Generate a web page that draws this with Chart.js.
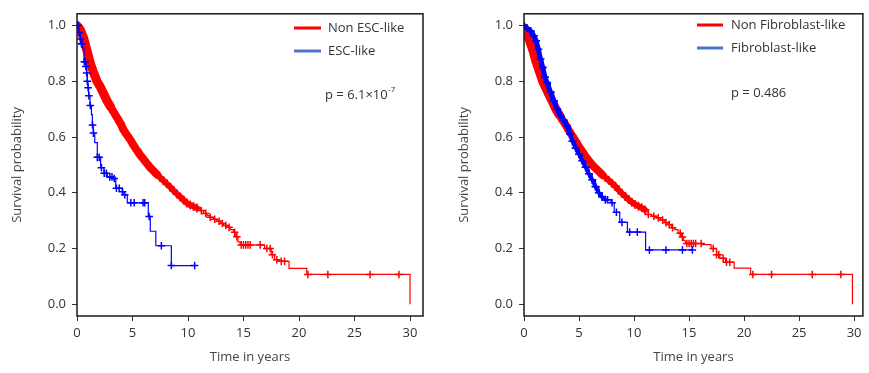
<!DOCTYPE html>
<html>
<head>
<meta charset="utf-8">
<script src="https://cdn.jsdelivr.net/npm/chart.js@4.4.0/dist/chart.umd.min.js"></script>
<style>
  html, body { margin: 0; padding: 0; background: #fff; }
  #wrap { position: relative; width: 869px; height: 373px; }
  .panel { position: absolute; top: 0; height: 373px; }
</style>
</head>
<body>
<div id="wrap">
  <div class="panel" style="left:0;width:434px"><canvas id="escChart" width="434" height="373"></canvas></div>
  <div class="panel" style="left:434px;width:435px"><canvas id="fibChart" width="435" height="373"></canvas></div>
</div>
<script>
// axis ticks
const xTicks = [0, 5, 10, 15, 20, 25, 30];
const yTicks = [0, 0.2, 0.4, 0.6, 0.8, 1.0];

// left panel: ESC-like
const escLabels = ['Non ESC-like', 'ESC-like'];
const escPText = ['p = 6.1×10', '-7'];

const nonEscTime = [0,0.3,0.6,0.9,1.2,1.5,1.8,2.1,2.4,2.7,3.0,3.3,3.6,3.9,4.2,4.5,4.8,5.1,5.4,5.7,6.0,6.3,6.6,6.9,7.2,7.5,7.8,8.1,8.4,8.7,9.0,9.3,9.6,9.9,10.2,10.5,10.8,11.1,11.4,11.7,12.0,12.3,12.6,12.9,13.2,13.5,13.8,14.1,14.3,14.5,14.7,16.9,17.5,17.8,18.2,19.1,20.7,30.0];
const nonEscSurv = [1.0,0.985,0.955,0.91,0.865,0.83,0.80,0.78,0.755,0.73,0.71,0.69,0.67,0.65,0.625,0.607,0.59,0.57,0.552,0.535,0.52,0.505,0.49,0.478,0.466,0.454,0.443,0.432,0.42,0.408,0.396,0.385,0.374,0.363,0.356,0.351,0.345,0.336,0.326,0.318,0.312,0.305,0.298,0.29,0.283,0.276,0.268,0.258,0.242,0.224,0.213,0.2,0.178,0.16,0.154,0.129,0.107,0.0];
const nonEscCensorTime = [11.2,11.6,12.0,12.4,12.8,13.1,13.4,13.7,14.2,14.4,14.8,15.0,15.2,15.4,15.6,16.5,17.1,17.4,17.6,18.0,18.4,18.7,20.8,22.6,26.4,29.0];
const nonEscCensorSurv = [0.336,0.326,0.312,0.305,0.298,0.29,0.283,0.276,0.258,0.242,0.213,0.213,0.213,0.213,0.213,0.213,0.2,0.2,0.178,0.16,0.154,0.154,0.107,0.107,0.107,0.107];

const escTime = [0,0.2,0.3,0.4,0.5,0.63,0.8,0.87,0.93,0.99,1.05,1.17,1.3,1.38,1.47,1.6,1.83,2.13,2.43,2.73,3.18,3.49,4.08,4.23,4.53,6.42,6.6,7.1,8.5,10.6];
const escSurv = [1.0,0.975,0.952,0.935,0.92,0.87,0.853,0.83,0.80,0.777,0.748,0.713,0.68,0.643,0.614,0.58,0.527,0.49,0.47,0.457,0.451,0.416,0.404,0.393,0.364,0.315,0.262,0.21,0.139,0.139];
const escCensorTime = [0.1,0.2,0.3,0.4,0.45,0.66,0.72,0.8,0.87,0.93,1.0,1.07,1.2,1.4,1.48,1.83,2.0,2.2,2.45,2.65,2.95,3.15,3.35,3.55,3.8,4.1,4.3,4.85,5.15,5.95,6.1,6.5,7.6,8.5,10.6];
const escCensorSurv = [1.0,0.975,0.952,0.935,0.935,0.87,0.87,0.853,0.83,0.80,0.777,0.748,0.713,0.643,0.614,0.527,0.527,0.49,0.47,0.47,0.457,0.457,0.451,0.416,0.416,0.404,0.393,0.364,0.364,0.364,0.364,0.315,0.21,0.139,0.139];

// right panel: Fibroblast-like
const fibLabels = ['Non Fibroblast-like', 'Fibroblast-like'];
const fibPText = ['p = 0.486', ''];

const nonFibTime = [0,0.25,0.5,0.8,1.1,1.4,1.7,2.0,2.3,2.6,2.9,3.2,3.5,3.8,4.1,4.4,4.7,5.0,5.3,5.6,5.9,6.2,6.5,6.8,7.1,7.4,7.7,8.0,8.3,8.6,8.9,9.2,9.5,9.8,10.1,10.4,10.7,11.0,11.3,11.6,12.0,12.4,12.8,13.1,13.4,13.7,14.0,14.3,14.5,14.7,16.2,17.0,17.5,17.8,18.3,19.1,20.6,29.85];
const nonFibSurv = [0.98,0.975,0.945,0.912,0.87,0.835,0.80,0.775,0.75,0.725,0.70,0.68,0.66,0.643,0.622,0.603,0.585,0.565,0.548,0.53,0.515,0.5,0.488,0.477,0.465,0.455,0.445,0.434,0.423,0.41,0.398,0.387,0.376,0.366,0.358,0.352,0.346,0.338,0.322,0.316,0.31,0.302,0.293,0.286,0.275,0.268,0.255,0.241,0.228,0.218,0.214,0.2,0.178,0.165,0.151,0.13,0.107,0.0];
const nonFibCensorTime = [11.3,11.8,12.2,12.6,12.9,13.2,13.5,14.2,14.4,14.8,15.0,15.2,15.4,15.6,16.1,17.2,17.5,17.7,18.1,18.4,18.7,20.8,22.5,26.2,28.8];
const nonFibCensorSurv = [0.322,0.316,0.31,0.302,0.293,0.286,0.275,0.255,0.241,0.218,0.218,0.218,0.218,0.218,0.218,0.2,0.178,0.178,0.165,0.151,0.151,0.107,0.107,0.107,0.107];

const fibTime = [0,0.3,0.6,0.9,1.1,1.3,1.5,1.7,1.9,2.1,2.4,2.7,3.0,3.3,3.6,3.9,4.2,4.4,4.7,5.0,5.3,5.6,5.9,6.2,6.5,6.8,7.1,7.4,7.9,8.2,8.7,9.4,11.05,15.3];
const fibSurv = [1.0,0.99,0.98,0.963,0.945,0.915,0.88,0.85,0.815,0.795,0.762,0.73,0.70,0.678,0.66,0.64,0.61,0.585,0.56,0.538,0.515,0.492,0.468,0.447,0.422,0.4,0.385,0.375,0.364,0.33,0.294,0.259,0.195,0.195];
const fibCensorTime = [7.6,8.0,8.4,8.9,9.6,10.3,11.4,12.9,14.4,15.3];
const fibCensorSurv = [0.375,0.364,0.33,0.294,0.259,0.259,0.195,0.195,0.195,0.195];

const RED = '#ff0000';
const BLUE = '#0000ff';
const TEXT = '#333';
const FONT = '"Open Sans", "Noto Sans", sans-serif';

function toPoints(t, s) {
    return t.map((x, i) => ({ x: x, y: s[i] }));
}

// one KM group -> dense censor band (optional), step curve, single censor marks
function kmDatasets(label, time, surv, censT, censS, color, band) {
    const sets = [];
    if (band) {
        const pts = toPoints(time, surv).filter(p => p.x <= band.until);
        sets.push({
            label: label + ' band',
            data: pts,
            showLine: true,
            borderColor: color,
            borderCapStyle: 'round',
            borderJoinStyle: 'round',
            segment: { borderWidth: c => band.width(c.p0.parsed.x) },
            pointStyle: 'cross',
            pointRadius: band.mark,
            pointBorderWidth: 1.6,
            pointBorderColor: color
        });
    }
    sets.push({
        label: label,
        data: toPoints(time, surv),
        showLine: true,
        stepped: 'before',
        borderColor: color,
        borderWidth: 1.2,
        pointRadius: 0
    });
    sets.push({
        label: label + ' censored',
        data: toPoints(censT, censS),
        showLine: false,
        pointStyle: 'cross',
        pointRadius: 3.8,
        pointBorderWidth: 1.5,
        pointBorderColor: color
    });
    return sets;
}

const kmNotes = {
    id: 'kmNotes',
    afterDatasetsDraw(chart, args, opts) {
        const { ctx, chartArea: a } = chart;
        ctx.save();
        ctx.strokeStyle = '#1a1a1a';
        ctx.lineWidth = 1.5;
        ctx.strokeRect(a.left, a.top, a.right - a.left, a.bottom - a.top);

        ctx.font = '13px ' + FONT;
        ctx.textBaseline = 'middle';
        ctx.fillStyle = TEXT;
        ctx.lineWidth = 3;
        opts.labels.forEach((lab, i) => {
            const y = opts.legendY[i];
            ctx.strokeStyle = opts.legendColors[i];
            ctx.beginPath();
            ctx.moveTo(opts.lineX[0], y);
            ctx.lineTo(opts.lineX[1], y);
            ctx.stroke();
            ctx.fillText(lab, opts.textX, y);
        });

        ctx.fillText(opts.pText[0], opts.pX, opts.pY);
        if (opts.pText[1]) {
            const w = ctx.measureText(opts.pText[0]).width;
            ctx.font = '8px ' + FONT;
            ctx.fillText(opts.pText[1], opts.pX + w + 0.5, opts.pY - 5);
        }
        ctx.restore();
    }
};

function buildChart(id, cfg) {
    const tickFont = { family: FONT, size: 13 };
    return new Chart(document.getElementById(id), {
        type: 'scatter',
        data: { datasets: cfg.datasets },
        options: {
            responsive: false,
            animation: false,
            devicePixelRatio: 1,
            layout: { padding: { left: 0, right: cfg.padRight, top: 6, bottom: 0 } },
            plugins: {
                legend: { display: false },
                tooltip: { enabled: false },
                kmNotes: cfg.notes
            },
            scales: {
                x: {
                    type: 'linear',
                    min: 0,
                    max: cfg.xMax,
                    afterBuildTicks: s => { s.ticks = xTicks.map(v => ({ value: v })); },
                    afterFit: s => { s.height = 57; },
                    border: { display: false },
                    grid: { drawOnChartArea: false, drawTicks: true, tickLength: 5, color: '#333' },
                    ticks: { font: tickFont, color: TEXT, padding: 4, maxRotation: 0, autoSkip: false },
                    title: { display: true, text: 'Time in years', font: tickFont, color: '#444', padding: { top: 0, bottom: 8 } }
                },
                y: {
                    min: -0.042,
                    max: 1.042,
                    afterBuildTicks: s => { s.ticks = yTicks.map(v => ({ value: v })); },
                    afterFit: s => { s.width = cfg.yWidth; },
                    border: { display: false },
                    grid: { drawOnChartArea: false, drawTicks: true, tickLength: 5, color: '#333' },
                    ticks: { font: tickFont, color: TEXT, padding: 6, callback: v => v.toFixed(1) },
                    title: { display: true, text: 'Survival probability', font: tickFont, color: '#444', padding: { top: cfg.yTitlePad, bottom: 0 } }
                }
            }
        },
        plugins: [kmNotes]
    });
}

const redBand = { until: 11.0, mark: 4.5, width: t => (t < 3 ? 9 : t < 7 ? 8 : 6) };

buildChart('escChart', {
    xMax: 31.17,
    yWidth: 77,
    padRight: 11,
    yTitlePad: 9,
    datasets: [].concat(
        kmDatasets(escLabels[1], escTime, escSurv, escCensorTime, escCensorSurv, BLUE, null),
        kmDatasets(escLabels[0], nonEscTime, nonEscSurv, nonEscCensorTime, nonEscCensorSurv, RED, redBand)
    ),
    notes: {
        labels: escLabels,
        legendColors: [RED, '#4a74cc'],
        legendY: [28, 51],
        lineX: [294, 321],
        textX: 328,
        pText: escPText,
        pX: 325,
        pY: 95
    }
});

buildChart('fibChart', {
    xMax: 30.8,
    yWidth: 90,
    padRight: 1,
    yTitlePad: 22,
    datasets: [].concat(
        kmDatasets(fibLabels[1], fibTime, fibSurv, fibCensorTime, fibCensorSurv, BLUE,
            { until: 7.4, mark: 4, width: t => (t < 4 ? 5 : 4) }),
        kmDatasets(fibLabels[0], nonFibTime, nonFibSurv, nonFibCensorTime, nonFibCensorSurv, RED, redBand)
    ),
    notes: {
        labels: fibLabels,
        legendColors: [RED, '#4a74cc'],
        legendY: [25, 48],
        lineX: [263, 289],
        textX: 297,
        pText: fibPText,
        pX: 297,
        pY: 93
    }
});
</script>
</body>
</html>
